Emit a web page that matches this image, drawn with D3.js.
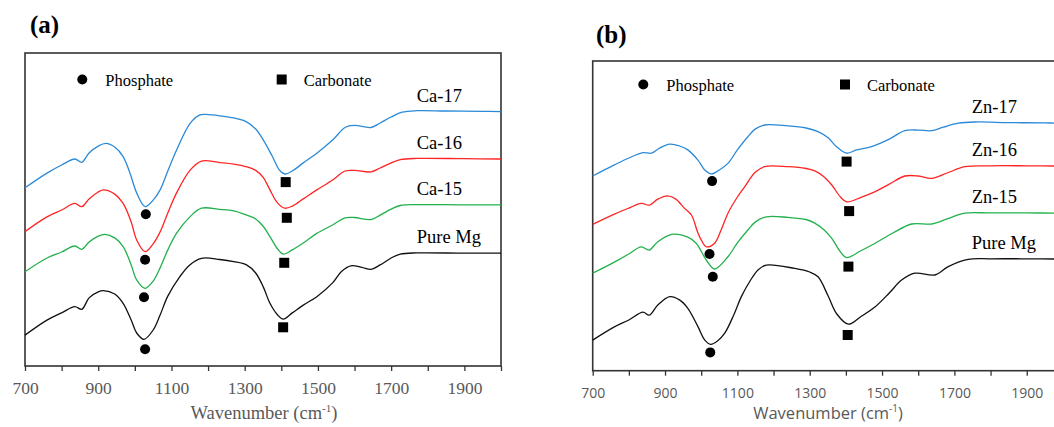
<!doctype html>
<html>
<head>
<script src="https://cdnjs.cloudflare.com/ajax/libs/d3/7.8.5/d3.min.js"></script>
<style>
  body { margin: 0; background: #fff; }
  svg { display: block; }
</style>
</head>
<body>
<svg width="1054" height="427"></svg>
<script>
// FTIR spectra, [wavenumber (cm-1), offset transmittance (a.u.)]

// panel (a) - Ca series
var caPure = [[700,10.3],[760,15.3],[800,17.7],[836,19.8],[855,18.9],[875,22.7],[900,24.7],[914,25.1],[945,24.0],[968,20.9],[990,15.3],[1005,11.0],[1025,8.9],[1050,12.0],[1069,17.0],[1090,23.3],[1123,29.8],[1150,33.7],[1182,35.9],[1232,35.5],[1270,34.8],[1305,33.7],[1330,31.0],[1351,26.3],[1369,20.9],[1390,17.0],[1405,15.6],[1430,17.7],[1460,20.3],[1497,23.1],[1540,27.7],[1565,31.6],[1590,33.4],[1620,32.9],[1645,32.2],[1670,33.7],[1700,36.0],[1725,37.3],[1770,37.7],[1900,37.6],[2000,37.6]];
var ca15 = [[700,31.4],[760,36.0],[800,38.0],[836,40.0],[855,38.9],[875,41.3],[900,43.3],[918,43.9],[945,42.7],[968,39.8],[990,33.7],[1005,28.7],[1028,25.9],[1050,28.3],[1069,32.7],[1090,38.7],[1114,44.3],[1151,49.8],[1182,52.6],[1232,52.2],[1270,51.7],[1305,50.3],[1330,49.0],[1351,46.5],[1369,43.1],[1390,39.0],[1405,37.3],[1430,38.7],[1460,41.0],[1497,44.2],[1540,47.0],[1574,49.4],[1600,49.5],[1645,48.8],[1670,50.3],[1700,52.3],[1725,53.5],[1770,53.8],[1900,53.7],[2000,53.7]];
var ca16 = [[700,44.8],[760,49.7],[800,52.0],[836,54.2],[855,53.1],[875,55.7],[900,58.0],[914,58.7],[945,57.3],[968,54.2],[990,48.0],[1005,42.0],[1028,38.1],[1050,40.7],[1069,44.7],[1090,51.0],[1114,57.7],[1151,65.3],[1182,68.3],[1232,67.8],[1270,67.3],[1305,66.4],[1330,65.2],[1351,62.8],[1369,58.7],[1390,54.3],[1410,52.6],[1430,53.3],[1460,55.7],[1497,58.7],[1540,62.0],[1574,65.0],[1600,65.2],[1645,64.7],[1670,66.0],[1700,67.7],[1725,68.8],[1770,69.2],[1900,69.1],[2000,69.0]];
var ca17 = [[700,59.4],[760,64.3],[800,67.0],[836,69.0],[855,67.9],[875,71.0],[900,73.3],[921,74.2],[945,73.0],[968,69.8],[987,64.2],[1005,57.7],[1028,53.1],[1050,55.3],[1069,58.7],[1090,65.0],[1114,72.0],[1151,80.9],[1178,83.7],[1200,83.8],[1232,83.4],[1270,82.7],[1305,81.4],[1330,79.0],[1351,75.3],[1375,70.0],[1395,65.3],[1410,64.0],[1430,65.0],[1460,67.7],[1497,70.9],[1540,75.3],[1575,79.6],[1600,80.2],[1645,79.5],[1670,81.0],[1700,83.0],[1730,84.6],[1770,85.1],[1850,85.0],[1950,84.9],[2000,84.8]];
var caPhosphate = [[1030,50.6],[1028,35.4],[1025,22.9],[1028,5.6]];
var caCarbonate = [[1412,61.3],[1415,49.4],[1408,34.4],[1405,12.9]];
var caNames = ["Pure Mg", "Ca-15", "Ca-16", "Ca-17"];

// panel (b) - Zn series
var znPure = [[700,10.2],[760,14.6],[800,16.9],[839,19.5],[856,18.5],[880,21.9],[913,24.7],[940,23.6],[963,20.8],[991,14.7],[1010,10.2],[1026,8.8],[1045,9.9],[1065,12.5],[1090,18.6],[1111,24.7],[1135,29.9],[1157,33.6],[1180,35.2],[1258,34.1],[1300,32.9],[1323,31.3],[1351,24.9],[1375,18.9],[1407,15.5],[1440,17.9],[1481,21.3],[1520,25.9],[1554,30.2],[1591,32.5],[1646,31.9],[1683,34.7],[1738,37.1],[1800,37.3],[1900,37.3],[2000,37.2]];
var zn15 = [[700,32.5],[760,36.2],[800,38.9],[834,41.3],[856,40.2],[880,43.0],[922,45.5],[963,44.5],[986,42.5],[1014,36.9],[1037,33.9],[1074,38.0],[1100,42.6],[1129,46.9],[1150,49.6],[1180,51.3],[1240,51.1],[1290,50.4],[1314,49.2],[1340,46.9],[1361,44.1],[1385,39.6],[1402,37.7],[1440,39.9],[1481,42.5],[1530,45.9],[1582,48.9],[1637,48.9],[1680,50.6],[1729,52.5],[1800,52.6],[1900,52.6],[2000,52.5]];
var zn16 = [[700,48.8],[760,52.2],[800,54.2],[834,55.8],[857,55.2],[880,57.2],[908,58.3],[930,57.2],[954,54.1],[973,51.9],[990,46.2],[1000,43.6],[1014,41.3],[1037,42.5],[1055,46.9],[1074,52.5],[1100,57.9],[1120,61.3],[1150,66.2],[1175,68.0],[1240,68.0],[1290,67.4],[1314,66.6],[1340,64.6],[1361,61.9],[1385,57.9],[1402,56.3],[1440,57.7],[1481,59.7],[1520,62.2],[1563,64.9],[1600,64.9],[1637,64.1],[1680,65.9],[1729,68.0],[1800,68.3],[1900,68.3],[2000,68.2]];
var zn17 = [[700,64.9],[760,68.6],[800,70.9],[839,72.7],[862,72.5],[885,74.2],[913,75.5],[940,74.9],[963,73.6],[991,70.2],[1010,66.9],[1028,65.6],[1050,66.9],[1074,69.1],[1100,73.6],[1129,78.0],[1150,80.6],[1175,81.9],[1240,81.6],[1290,80.9],[1323,79.7],[1350,77.7],[1375,74.6],[1402,72.5],[1430,73.6],[1471,74.7],[1520,77.2],[1563,80.0],[1600,80.2],[1637,80.0],[1670,81.2],[1711,82.5],[1757,82.9],[1850,82.7],[1950,82.6],[2000,82.5]];
var znPhosphate = [[1030,63.2],[1023,38.9],[1032,31.3],[1025,6.1]];
var znCarbonate = [[1402,69.7],[1409,53.2],[1407,34.7],[1405,11.9]];
var znNames = ["Pure Mg", "Zn-15", "Zn-16", "Zn-17"];

var xTicks = [700, 800, 900, 1000, 1100, 1200, 1300, 1400, 1500, 1600, 1700, 1800, 1900, 2000];
var xLabels = [700, 900, 1100, 1300, 1500, 1700, 1900];
var colors = ["#111111", "#22b14c", "#ff2424", "#2b8ad8"];

var svg = d3.select("svg");
var serif = "'Liberation Serif', 'Times New Roman', serif";

function drawPanel(p) {
  var x = d3.scaleLinear().domain([700, 2000]).range([p.left, p.right]);
  var y = d3.scaleLinear().domain([0, p.ymax]).range([p.bottom, p.top]);
  var g = svg.append("g");

  g.append("text").attr("x", p.titleX).attr("y", p.titleY)
    .style("font-family", serif)
    .style("font-weight", "bold").style("font-size", "25px")
    .text(p.title);

  // axis ticks
  var axis = d3.axisBottom(x).tickValues(xTicks).tickSize(5).tickSizeOuter(0)
    .tickFormat(d => xLabels.indexOf(d) >= 0 ? d : "");
  var ax = g.append("g").attr("transform", "translate(0," + p.bottom + ")").call(axis);
  ax.select(".domain").remove();
  ax.selectAll(".tick line").attr("stroke", "#333").attr("stroke-width", 1.3);
  ax.selectAll(".tick text").attr("y", p.tickY).attr("dy", 0)
    .attr("fill", "#595959")
    .style("font-family", p.tickFont).style("font-size", p.tickSize);

  // frame
  g.append("rect").attr("x", p.left).attr("y", p.top)
    .attr("width", p.right - p.left).attr("height", p.bottom - p.top)
    .attr("fill", "none").attr("stroke", "#333").attr("stroke-width", 1.6);

  var line = d3.line().x(d => x(d[0])).y(d => y(d[1])).curve(d3.curveCatmullRom.alpha(0.5));
  g.selectAll(".spec").data(p.series).enter().append("path")
    .attr("d", line).attr("fill", "none")
    .attr("stroke", (d, i) => colors[i]).attr("stroke-width", 1.3);

  g.selectAll(".lab").data(p.series).enter().append("text")
    .attr("x", x(p.labelX)).attr("y", d => y(d[d.length - 1][1] + 3.3))
    .style("font-family", serif)
    .style("font-size", "18.5px")
    .text((d, i) => p.names[i]);

  g.selectAll(".ph").data(p.phosphate).enter().append("circle")
    .attr("cx", d => x(d[0])).attr("cy", d => y(d[1])).attr("r", 5).attr("fill", "#000");
  g.selectAll(".co").data(p.carbonate).enter().append("rect")
    .attr("x", d => x(d[0]) - 5).attr("y", d => y(d[1]) - 5)
    .attr("width", 10).attr("height", 10).attr("fill", "#000");

  // legend
  g.append("circle").attr("cx", p.legend[0]).attr("cy", p.legend[1]).attr("r", 5);
  g.append("text").attr("x", p.legend[0] + 23).attr("y", p.legend[1] + 6.5)
    .style("font-family", serif)
    .style("font-size", "16.5px").text("Phosphate");
  g.append("rect").attr("x", p.legend[2] - 5).attr("y", p.legend[1] - 5)
    .attr("width", 10).attr("height", 10);
  g.append("text").attr("x", p.legend[2] + 22).attr("y", p.legend[1] + 6.5)
    .style("font-family", serif)
    .style("font-size", "16.5px").text("Carbonate");

  // axis title
  var t = g.append("text").attr("x", p.titleCx).attr("y", p.xTitleY)
    .attr("text-anchor", "middle").attr("fill", "#595959")
    .style("font-family", p.tickFont).style("font-size", p.xTitleSize);
  t.append("tspan").text("Wavenumber (cm");
  t.append("tspan").attr("dy", -7).style("font-size", "0.6em").text("-1");
  t.append("tspan").attr("dy", 7).text(")");
}

drawPanel({
  title: "(a)", titleX: 30, titleY: 33,
  left: 25, right: 501, top: 53, bottom: 366, ymax: 313 / 3,
  series: [caPure, ca15, ca16, ca17], names: caNames,
  phosphate: caPhosphate, carbonate: caCarbonate,
  labelX: 1770, legend: [82.3, 79.5, 281.7],
  tickFont: serif, tickSize: "17.5px", tickY: 28,
  titleCx: 264, xTitleY: 419, xTitleSize: "18.5px"
});

drawPanel({
  title: "(b)", titleX: 596, titleY: 43,
  left: 592.7, right: 1062.9, top: 61, bottom: 370.7, ymax: 309.7 / 3,
  series: [znPure, zn15, zn16, zn17], names: znNames,
  phosphate: znPhosphate, carbonate: znCarbonate,
  labelX: 1748, legend: [643.3, 84.5, 845],
  tickFont: "'Open Sans', sans-serif", tickSize: "14px", tickY: 27,
  titleCx: 828, xTitleY: 419, xTitleSize: "16.5px"
});
</script>
</body>
</html>
